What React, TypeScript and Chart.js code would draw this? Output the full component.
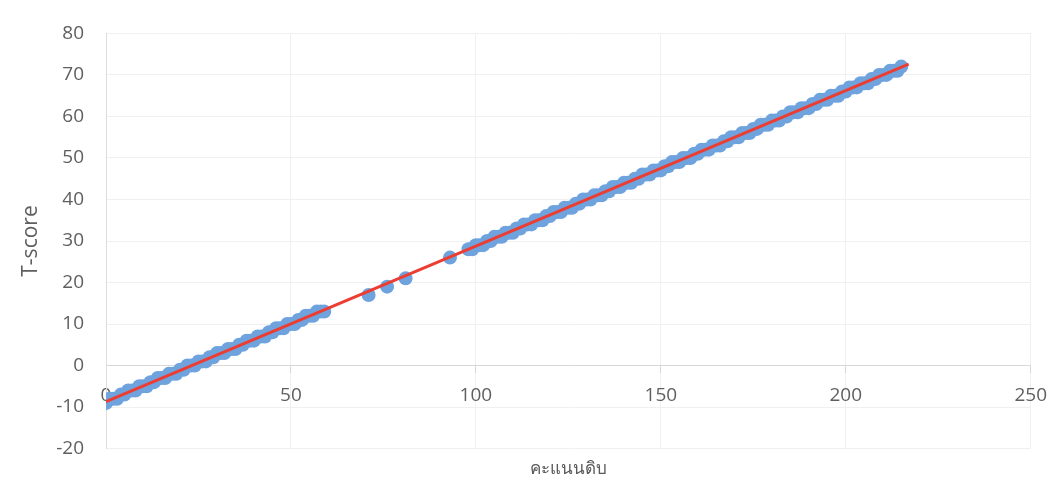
import React, { useEffect, useRef } from "react";
import { Chart, registerables } from "chart.js";

Chart.register(...registerables);

// Raw scores (x) of the scatter points
const rawScores = [
  0, 1, 2, 3, 4, 5, 6, 7, 8, 9, 10, 11, 12, 13, 14, 15, 16, 17, 18, 19,
  20, 21, 22, 23, 24, 25, 26, 27, 28, 29, 30, 31, 32, 33, 34, 35, 36, 37, 38, 39,
  40, 41, 42, 43, 44, 45, 46, 47, 48, 49, 50, 51, 52, 53, 54, 55, 56, 57, 58, 59,
  71, 76, 81, 93,
  98, 99, 100, 101, 102, 103, 104, 105, 106, 107, 108, 109, 110, 111, 112, 113, 114, 115, 116, 117,
  118, 119, 120, 121, 122, 123, 124, 125, 126, 127, 128, 129, 130, 131, 132, 133, 134, 135, 136, 137,
  138, 139, 140, 141, 142, 143, 144, 145, 146, 147, 148, 149, 150, 151, 152, 153, 154, 155, 156, 157,
  158, 159, 160, 161, 162, 163, 164, 165, 166, 167, 168, 169, 170, 171, 172, 173, 174, 175, 176, 177,
  178, 179, 180, 181, 182, 183, 184, 185, 186, 187, 188, 189, 190, 191, 192, 193, 194, 195, 196, 197,
  198, 199, 200, 201, 202, 203, 204, 205, 206, 207, 208, 209, 210, 211, 212, 213, 214, 215,
];
// T-scores (y) of the scatter points
const tScores = [
  -9, -8, -8, -8, -7, -7, -6, -6, -6, -5, -5, -5, -4, -4, -3, -3, -3, -2, -2, -2,
  -1, -1, 0, 0, 0, 1, 1, 1, 2, 2, 3, 3, 3, 4, 4, 4, 5, 5, 6, 6,
  6, 7, 7, 7, 8, 8, 9, 9, 9, 10, 10, 10, 11, 11, 12, 12, 12, 13, 13, 13,
  17, 19, 21, 26,
  28, 28, 29, 29, 29, 30, 30, 31, 31, 31, 32, 32, 32, 33, 33, 34, 34, 34, 35, 35,
  35, 36, 36, 37, 37, 37, 38, 38, 38, 39, 39, 40, 40, 40, 41, 41, 41, 42, 42, 43,
  43, 43, 44, 44, 44, 45, 45, 46, 46, 46, 47, 47, 47, 48, 48, 49, 49, 49, 50, 50,
  50, 51, 51, 52, 52, 52, 53, 53, 53, 54, 54, 55, 55, 55, 56, 56, 56, 57, 57, 58,
  58, 58, 59, 59, 59, 60, 60, 61, 61, 61, 62, 62, 62, 63, 63, 64, 64, 64, 65, 65,
  65, 66, 66, 67, 67, 67, 68, 68, 68, 69, 69, 70, 70, 70, 71, 71, 71, 72,
];

// Trend line end points
const trendX = [0, 217];
const trendY = [-8.7, 72.6];

const xTicks = [0, 50, 100, 150, 200, 250];
const yTicks = [-20, -10, 0, 10, 20, 30, 40, 50, 60, 70, 80];

const xTitle = "คะแนนดิบ";
const yTitle = "T-score";

const FONT = "'Open Sans', 'Noto Sans', 'DejaVu Sans', sans-serif";

export default function App() {
  const ref = useRef<HTMLCanvasElement | null>(null);

  useEffect(() => {
    if (!ref.current) return;
    const points = rawScores.map((x, i) => ({ x, y: tScores[i] }));
    const line = trendX.map((x, i) => ({ x, y: trendY[i] }));
    const chart = new Chart(ref.current, {
      type: "scatter",
      data: {
        datasets: [
          {
            type: "line",
            label: "trend",
            data: line,
            borderColor: "#ec3d33",
            borderWidth: 3,
            pointRadius: 0,
            fill: false,
            order: 0,
          },
          {
            label: "T-score",
            data: points,
            backgroundColor: "#6fa3de",
            borderColor: "#6fa3de",
            pointRadius: 7,
            pointBorderWidth: 0,
            order: 1,
          },
        ],
      },
      options: {
        animation: false,
        responsive: true,
        maintainAspectRatio: false,
        layout: { padding: { top: 26, right: 23, left: 0, bottom: 0 } },
        plugins: {
          legend: { display: false },
          tooltip: { enabled: false },
          title: {
            display: true,
            text: xTitle,
            position: "bottom",
            fullSize: false,
            color: "#595959",
            font: { family: FONT, size: 17, weight: "normal" },
            padding: { top: 10, bottom: 3 },
          },
        },
        scales: {
          x: {
            type: "linear",
            position: { y: 0 } as any,
            min: 0,
            max: 250,
            afterBuildTicks: (s: any) => {
              s.ticks = xTicks.map((v) => ({ value: v }));
            },
            grid: { color: "#f0f0f0", drawTicks: true, tickLength: 7, tickColor: "#d8d8d8" },
            border: { display: true, color: "#d8d8d8" },
            ticks: {
              color: "#5f5f5f",
              font: { family: FONT, size: 19 },
              padding: 12,
              maxRotation: 0,
            },
          },
          y: {
            type: "linear",
            position: "left",
            min: -20,
            max: 80,
            afterBuildTicks: (s: any) => {
              s.ticks = yTicks.map((v) => ({ value: v }));
            },
            afterFit: (s: any) => {
              s.width = 106;
            },
            grid: { color: "#f0f0f0", drawTicks: false },
            border: { display: true, color: "#dddddd" },
            ticks: {
              color: "#5f5f5f",
              font: { family: FONT, size: 19 },
              padding: 22,
            },
            title: {
              display: true,
              text: yTitle,
              color: "#5f5f5f",
              font: { family: FONT, size: 21, weight: "normal" },
              padding: { top: 18, bottom: 0 },
            },
          },
        },
      },
    });
    return () => chart.destroy();
  }, []);

  return (
    <div style={{ position: "fixed", left: 0, top: 0, width: 1059, height: 482, background: "#fff" }}>
      <canvas ref={ref} />
    </div>
  );
}
